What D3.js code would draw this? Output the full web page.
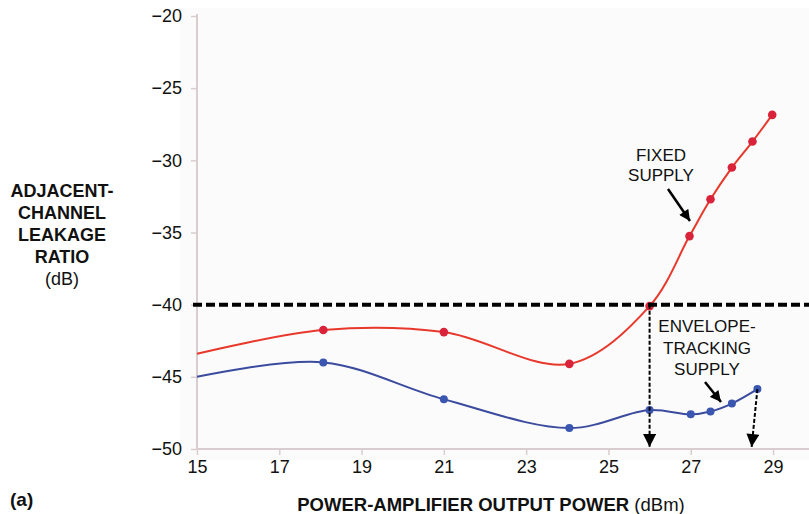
<!DOCTYPE html>
<html><head><meta charset="utf-8">
<script src="https://cdn.jsdelivr.net/npm/d3@7"></script>
<style>
html,body{margin:0;padding:0;background:#fff;}
svg{display:block;font-family:"Liberation Sans",Arial,Helvetica,sans-serif;}
</style></head>
<body>
<svg id="chart" width="809" height="514"></svg>
<script>
// Data
const fixedX = [15, 18.07, 21, 24.05, 26, 26.97, 27.48, 28, 28.5, 28.98];
const fixedY = [-43.4, -41.75, -41.9, -44.1, -40.1, -35.25, -32.7, -30.5, -28.7, -26.85];
const fixedMarkers = [false, true, true, true, true, true, true, true, true, true];
const envX = [15, 18.07, 21, 24.05, 26, 27, 27.48, 28, 28.62];
const envY = [-45.0, -44.0, -46.55, -48.55, -47.3, -47.6, -47.4, -46.85, -45.85];
const envMarkers = [false, true, true, true, true, true, true, true, true];
const xTicks = [15, 17, 19, 21, 23, 25, 27, 29];
const yTicks = [-20, -25, -30, -35, -40, -45, -50];
const threshold = -40;
const dropFixed = [[26, -40], [26, -50]];
const dropEnv = [[28.62, -45.85], [28.48, -50]];

const svg = d3.select("#chart");
const x = d3.scaleLinear().domain([15, 29.85]).range([197, 808]);
const y = d3.scaleLinear().domain([-50, -20]).range([449, 16]);

// plot background
svg.append("rect").attr("x", 180).attr("y", 8).attr("width", 629).attr("height", 452).attr("fill", "#fbfbfb");

const axisColor = "#d9cdcf";
// x axis
const xAxis = svg.append("g").attr("transform", `translate(0,${y(-50)})`)
  .call(d3.axisBottom(x).tickValues(xTicks).tickSize(6).tickPadding(5).tickFormat(d3.format("d")));
xAxis.select(".domain").attr("stroke", axisColor).attr("stroke-width", 2).attr("d", `M${x(15)},0H809`);
xAxis.selectAll(".tick line").attr("stroke", axisColor).attr("stroke-width", 1.5);
xAxis.selectAll(".tick text").attr("font-size", 18).attr("fill", "#111").attr("font-family", "Liberation Sans, Arial, sans-serif");

// y axis
const yAxis = svg.append("g").attr("transform", `translate(${x(15)},0)`)
  .call(d3.axisLeft(y).tickValues(yTicks).tickSize(6).tickPadding(9).tickFormat(d => "\u2212" + Math.abs(d)));
yAxis.select(".domain").attr("stroke", axisColor).attr("stroke-width", 2).attr("d", `M0,${y(-20)-2}V${y(-50)}`);
yAxis.selectAll(".tick line").attr("stroke", axisColor).attr("stroke-width", 1.5);
yAxis.selectAll(".tick text").attr("font-size", 18).attr("fill", "#111").attr("font-family", "Liberation Sans, Arial, sans-serif");

// series lines
const line = d3.line().x(d => x(d[0])).y(d => y(d[1])).curve(d3.curveCatmullRom.alpha(0.5));
const fixedData = fixedX.map((v, i) => [v, fixedY[i], fixedMarkers[i]]);
const envData = envX.map((v, i) => [v, envY[i], envMarkers[i]]);

svg.append("path").datum(envData).attr("d", line).attr("fill", "none").attr("stroke", "#3b4b9e").attr("stroke-width", 2);
svg.append("path").datum(fixedData).attr("d", line).attr("fill", "none").attr("stroke", "#e8382b").attr("stroke-width", 2);

svg.selectAll(".envm").data(envData.filter(d => d[2])).enter().append("circle")
  .attr("cx", d => x(d[0])).attr("cy", d => y(d[1])).attr("r", 4).attr("fill", "#3a56b0");
svg.selectAll(".fixm").data(fixedData.filter(d => d[2])).enter().append("circle")
  .attr("cx", d => x(d[0])).attr("cy", d => y(d[1])).attr("r", 4.3).attr("fill", "#d8233a");

// threshold dashed line
svg.append("line").attr("x1", 193).attr("x2", 809).attr("y1", y(threshold)).attr("y2", y(threshold))
  .attr("stroke", "#000").attr("stroke-width", 4).attr("stroke-dasharray", "9,4");

// arrow marker defs
const defs = svg.append("defs");
defs.append("marker").attr("id", "headDrop").attr("viewBox", "0 0 10 10").attr("refX", 10).attr("refY", 5)
  .attr("markerUnits", "userSpaceOnUse").attr("markerWidth", 14).attr("markerHeight", 13).attr("orient", "auto")
  .append("path").attr("d", "M0,0L10,5L0,10Z").attr("fill", "#000");
defs.append("marker").attr("id", "headAnn").attr("viewBox", "0 0 10 10").attr("refX", 10).attr("refY", 5)
  .attr("markerUnits", "userSpaceOnUse").attr("markerWidth", 12).attr("markerHeight", 11).attr("orient", "auto")
  .append("path").attr("d", "M0,0L10,5L0,10Z").attr("fill", "#000");

[dropFixed, dropEnv].forEach(seg => {
  svg.append("line").attr("x1", x(seg[0][0])).attr("y1", y(seg[0][1]))
    .attr("x2", x(seg[1][0])).attr("y2", y(seg[1][1]) - 2)
    .attr("stroke", "#000").attr("stroke-width", 2).attr("stroke-dasharray", "4,2")
    .attr("marker-end", "url(#headDrop)");
});

// annotation arrows
svg.append("line").attr("x1", 668).attr("y1", 189).attr("x2", 690).attr("y2", 221)
  .attr("stroke", "#000").attr("stroke-width", 2.5).attr("marker-end", "url(#headAnn)");
svg.append("line").attr("x1", 705).attr("y1", 382).attr("x2", 721).attr("y2", 402)
  .attr("stroke", "#000").attr("stroke-width", 2.5).attr("marker-end", "url(#headAnn)");

// annotation text
const ann = (lines, cx, y0, dy) => {
  const t = svg.append("text").attr("text-anchor", "middle").attr("font-size", 17).attr("fill", "#111");
  lines.forEach((s, i) => t.append("tspan").attr("x", cx).attr("y", y0 + i * dy).text(s));
};
ann(["FIXED", "SUPPLY"], 661, 161, 20);
ann(["ENVELOPE-", "TRACKING", "SUPPLY"], 707, 332, 21.5);

// y title
const yt = svg.append("text").attr("text-anchor", "middle").attr("font-size", 18).attr("fill", "#111");
["ADJACENT-", "CHANNEL", "LEAKAGE", "RATIO"].forEach((s, i) =>
  yt.append("tspan").attr("x", 62).attr("y", 197 + i * 22).attr("font-weight", "bold").text(s));
yt.append("tspan").attr("x", 62).attr("y", 285).text("(dB)");

// x title
const xt = svg.append("text").attr("x", 491).attr("y", 511).attr("text-anchor", "middle").attr("font-size", 18.5).attr("fill", "#111");
xt.append("tspan").attr("font-weight", "bold").text("POWER-AMPLIFIER OUTPUT POWER");
xt.append("tspan").text(" (dBm)");

svg.append("text").attr("x", 10).attr("y", 506).attr("font-size", 19).attr("font-weight", "bold").attr("fill", "#111").text("(a)");
</script>
</body></html>
